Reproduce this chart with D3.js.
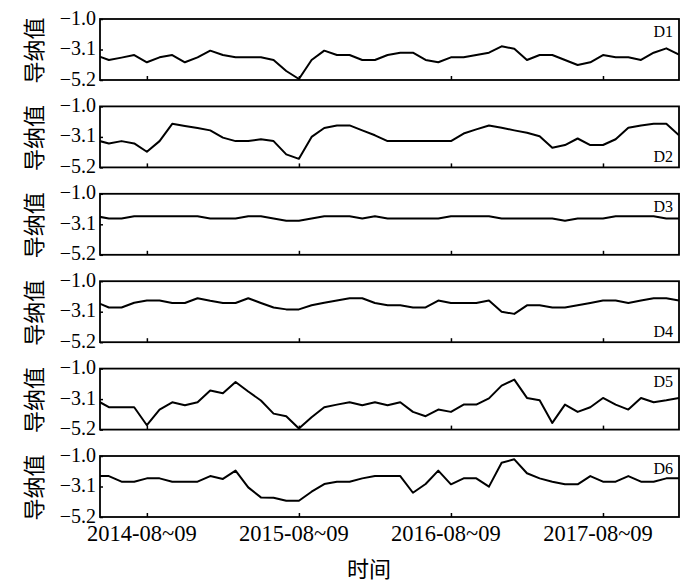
<!DOCTYPE html>
<html>
<head>
<meta charset="utf-8">
<script src="https://cdn.jsdelivr.net/npm/d3@7"></script>
<style>
  body { margin: 0; background: #fff; }
  svg { display: block; }
</style>
</head>
<body>
<div id="chart"></div>
<script>
// monthly samples, 2014-04 .. 2018-02
var months = ["2014-04", "2014-05", "2014-06", "2014-07", "2014-08", "2014-09", "2014-10", "2014-11", "2014-12",
  "2015-01", "2015-02", "2015-03", "2015-04", "2015-05", "2015-06", "2015-07", "2015-08", "2015-09", "2015-10", "2015-11", "2015-12",
  "2016-01", "2016-02", "2016-03", "2016-04", "2016-05", "2016-06", "2016-07", "2016-08", "2016-09", "2016-10", "2016-11", "2016-12",
  "2017-01", "2017-02", "2017-03", "2017-04", "2017-05", "2017-06", "2017-07", "2017-08", "2017-09", "2017-10", "2017-11", "2017-12",
  "2018-01", "2018-02"]

var seriesNames = ["D1", "D2", "D3", "D4", "D5", "D6"]

var D1 = [-3.51, -3.82, -3.66, -3.48, -3.98, -3.64, -3.48, -3.98, -3.64, -3.18, -3.48, -3.64, -3.64, -3.64, -3.82, -4.58, -5.13, -3.82, -3.18, -3.48, -3.48, -3.82, -3.82, -3.48, -3.32, -3.32, -3.82, -3.98, -3.64, -3.64, -3.48, -3.32, -2.88, -3.05, -3.82, -3.48, -3.48, -3.82, -4.17, -3.98, -3.48, -3.64, -3.64, -3.82, -3.32, -3.02, -3.45]
var D2 = [-3.32, -3.55, -3.39, -3.55, -4.12, -3.39, -2.20, -2.35, -2.49, -2.65, -3.15, -3.39, -3.39, -3.26, -3.39, -4.30, -4.61, -3.10, -2.49, -2.31, -2.31, -2.65, -2.99, -3.39, -3.39, -3.39, -3.39, -3.39, -3.39, -2.87, -2.58, -2.31, -2.47, -2.65, -2.81, -3.05, -3.85, -3.66, -3.21, -3.66, -3.66, -3.26, -2.47, -2.31, -2.20, -2.20, -2.99]
var D3 = [-2.54, -2.70, -2.70, -2.54, -2.54, -2.54, -2.54, -2.54, -2.54, -2.70, -2.70, -2.70, -2.54, -2.54, -2.70, -2.86, -2.86, -2.70, -2.54, -2.54, -2.54, -2.70, -2.54, -2.70, -2.70, -2.70, -2.70, -2.70, -2.54, -2.54, -2.54, -2.54, -2.70, -2.70, -2.70, -2.70, -2.70, -2.86, -2.70, -2.70, -2.70, -2.54, -2.54, -2.54, -2.54, -2.70, -2.70]
var D4 = [-2.44, -2.81, -2.81, -2.48, -2.33, -2.33, -2.50, -2.50, -2.17, -2.35, -2.50, -2.50, -2.17, -2.50, -2.81, -2.94, -2.94, -2.66, -2.48, -2.33, -2.17, -2.17, -2.50, -2.66, -2.66, -2.81, -2.81, -2.33, -2.50, -2.50, -2.50, -2.33, -3.10, -3.25, -2.66, -2.66, -2.81, -2.81, -2.66, -2.50, -2.33, -2.33, -2.50, -2.33, -2.17, -2.17, -2.33]
var D5 = [-3.17, -3.66, -3.66, -3.66, -4.90, -3.82, -3.32, -3.53, -3.32, -2.51, -2.70, -1.92, -2.58, -3.20, -4.10, -4.28, -5.13, -4.35, -3.66, -3.48, -3.32, -3.53, -3.32, -3.53, -3.32, -3.98, -4.28, -3.82, -3.98, -3.48, -3.48, -3.05, -2.17, -1.76, -3.02, -3.18, -4.74, -3.48, -3.98, -3.66, -3.02, -3.48, -3.82, -3.02, -3.32, -3.18, -3.02]
var D6 = [-2.38, -2.38, -2.77, -2.77, -2.54, -2.54, -2.77, -2.77, -2.77, -2.38, -2.58, -2.01, -3.16, -3.85, -3.87, -4.08, -4.08, -3.46, -2.93, -2.77, -2.77, -2.54, -2.38, -2.38, -2.38, -3.53, -2.93, -2.01, -2.95, -2.54, -2.54, -3.11, -1.46, -1.23, -2.19, -2.54, -2.77, -2.95, -2.95, -2.38, -2.77, -2.77, -2.38, -2.77, -2.77, -2.54, -2.54]
var allSeries = [D1, D2, D3, D4, D5, D6]

var yTicks = [-1.0, -3.1, -5.2]
var xTickMonths = ["2014-08", "2015-08", "2016-08", "2017-08"]
var xTickLabels = ["2014-08~09", "2015-08~09", "2016-08~09", "2017-08~09"]
var yLabel = "导纳值"
var xLabel = "时间"

var width = 700, height = 583
var left = 100, right = 679
var top0 = 19, step = 87.4, panelH = 61
var serif = "'Liberation Serif', 'Times New Roman', serif"
var cjk = "'Noto Sans CJK SC', sans-serif"

var svg = d3.select("#chart").append("svg").attr("width", width).attr("height", height)

// the first sample sits just left of the frame and gets clipped
var xs = d3.scaleLinear().domain([0.3, months.length - 1]).range([left, right])
var ys = d3.scaleLinear().domain([-5.2, -1.0]).range([panelH, 0])

svg.append("defs").append("clipPath").attr("id", "clip")
  .append("rect").attr("x", left).attr("y", 0).attr("width", right - left).attr("height", panelH)

var line = d3.line()
  .x(function (d, i) { return xs(i) })
  .y(function (d) { return ys(d) })

allSeries.forEach(function (values, p) {
  var g = svg.append("g").attr("transform", "translate(0," + (top0 + p * step) + ")")

  g.append("path")
    .datum(values)
    .attr("clip-path", "url(#clip)")
    .attr("fill", "none")
    .attr("stroke", "#000")
    .attr("stroke-width", 2)
    .attr("stroke-linejoin", "round")
    .attr("d", line)

  // y axis, ticks inward
  var ya = g.append("g").attr("transform", "translate(" + left + ",0)")
    .call(d3.axisRight(ys).tickValues(yTicks).tickSize(3).tickFormat(""))
  ya.select(".domain").remove()
  ya.selectAll("line").attr("stroke", "#000").attr("stroke-width", 1.5)

  g.selectAll(".ylab")
    .data(yTicks)
    .enter()
    .append("text")
    .attr("x", left - 4)
    .attr("y", function (d) { return ys(d) + 1 })
    .attr("text-anchor", "end")
    .attr("dominant-baseline", "middle")
    .style("font-family", serif)
    .style("font-size", "20px")
    .text(function (d) { return d3.format(".1f")(d).replace("-", "\u2212") })

  // x axis, ticks inward
  var xa = g.append("g").attr("transform", "translate(0," + panelH + ")")
    .call(d3.axisTop(xs).tickValues(xTickMonths.map(function (m) { return months.indexOf(m) })).tickSize(4).tickFormat(""))
  xa.select(".domain").remove()
  xa.selectAll("line").attr("stroke", "#000").attr("stroke-width", 1.5)

  g.append("rect")
    .attr("x", left).attr("y", 0)
    .attr("width", right - left).attr("height", panelH)
    .attr("fill", "none").attr("stroke", "#000").attr("stroke-width", 1.8)

  var atBottom = (p == 1 || p == 3)
  g.append("text")
    .attr("x", right - 6)
    .attr("y", atBottom ? panelH - 5 : 18)
    .attr("text-anchor", "end")
    .style("font-family", serif)
    .style("font-size", "16px")
    .text(seriesNames[p])

  g.append("text")
    .attr("transform", "translate(32," + (panelH / 2 + 1) + ") rotate(-90)")
    .attr("text-anchor", "middle")
    .attr("dominant-baseline", "central")
    .style("font-family", cjk)
    .style("font-size", "22px")
    .text(yLabel)

  if (p == allSeries.length - 1) {
    g.selectAll(".xlab")
      .data(xTickMonths)
      .enter()
      .append("text")
      .attr("x", function (d) { return xs(months.indexOf(d)) - 5 })
      .attr("y", panelH + 24)
      .attr("text-anchor", "middle")
      .style("font-family", serif)
      .style("font-size", "22.5px")
      .text(function (d, i) { return xTickLabels[i] })

    g.append("text")
      .attr("x", 369)
      .attr("y", panelH + 60)
      .attr("text-anchor", "middle")
      .style("font-family", cjk)
      .style("font-size", "22px")
      .text(xLabel)
  }
})
</script>
</body>
</html>
